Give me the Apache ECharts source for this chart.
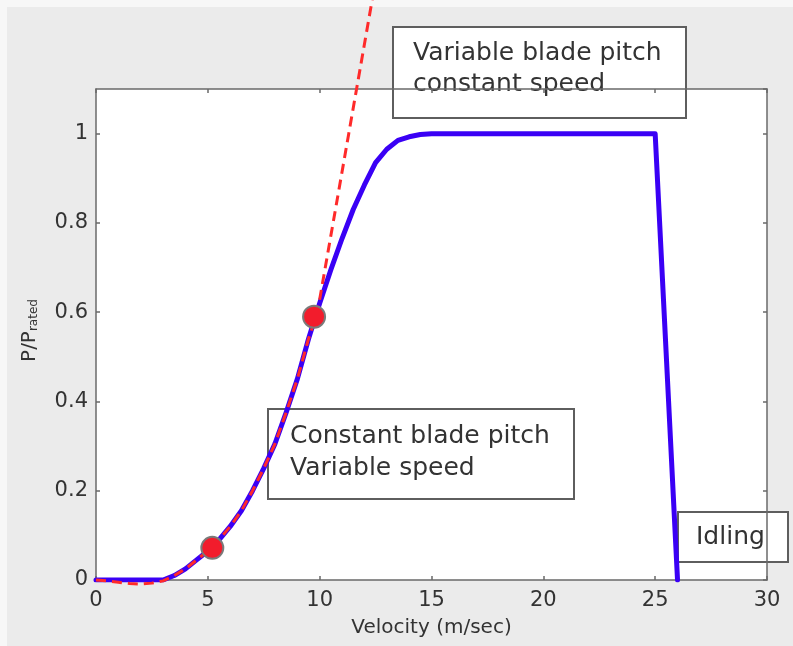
<!DOCTYPE html>
<html>
<head>
<meta charset="utf-8">
<script src="https://cdn.jsdelivr.net/npm/echarts@6/dist/echarts.min.js"></script>
<style>
html,body{margin:0;padding:0;background:#ffffff;}
#chart{width:793px;height:646px;}
</style>
</head>
<body>
<div id="chart"></div>
<script>
// Actual power curve (P/P_rated vs wind velocity)
const actualVelocity = [0, 1, 2, 3, 3.5, 4, 4.5, 5, 5.5, 6, 6.5, 7, 7.5, 8, 8.5, 9, 9.5, 10, 10.5, 11, 11.5, 12, 12.5, 13, 13.5, 14, 14.5, 15, 16, 20, 25, 26];
const actualPower    = [0, 0, 0, 0, 0.01, 0.025, 0.045, 0.065, 0.09, 0.12, 0.155, 0.2, 0.25, 0.305, 0.375, 0.45, 0.54, 0.62, 0.695, 0.765, 0.83, 0.885, 0.935, 0.965, 0.985, 0.993, 0.998, 1.0, 1.0, 1.0, 1.0, 0];

// Ideal (constant pitch) power curve, red dashed
const idealVelocity = [0, 0.5, 1, 1.5, 2, 2.5, 3, 3.5, 4, 4.5, 5, 5.5, 6, 6.5, 7, 7.5, 8, 8.5, 9, 9.5, 9.9, 10.6, 11.3, 12.5];
const idealPower    = [0, -0.002, -0.005, -0.008, -0.009, -0.007, -0.002, 0.01, 0.025, 0.045, 0.065, 0.09, 0.12, 0.155, 0.2, 0.25, 0.305, 0.375, 0.45, 0.54, 0.6, 0.8, 1.0, 1.343];

// Highlighted operating points
const markerVelocity = [5.2, 9.75];
const markerPower    = [0.072, 0.59];

// Axis ticks
const xTicks = [0, 5, 10, 15, 20, 25, 30];
const yTicks = [0, 0.2, 0.4, 0.6, 0.8, 1];

// Annotation texts
const annotationTexts = ['Variable blade pitch\nconstant speed', 'Constant blade pitch\nVariable speed', 'Idling'];

const FONT = 'DejaVu Sans';
const TXT = '#333333';
const AX = '#6a6a6a';

const zip = (a, b) => a.map((v, i) => [v, b[i]]);

const chart = echarts.init(document.getElementById('chart'), null, {renderer: 'canvas'});

const axisLineStyle = {color: AX, width: 1.5};

const option = {
  animation: false,
  backgroundColor: '#ebebeb',
  grid: {left: 96, right: 26, top: 89, bottom: 66, show: true, backgroundColor: '#ffffff', borderWidth: 0, containLabel: false},
  xAxis: [{
    type: 'value', min: xTicks[0], max: xTicks[xTicks.length - 1], interval: xTicks[1] - xTicks[0],
    position: 'bottom',
    axisLine: {show: true, onZero: false, lineStyle: axisLineStyle},
    axisTick: {show: true, inside: true, length: 4, lineStyle: axisLineStyle},
    splitLine: {show: false},
    axisLabel: {color: TXT, fontSize: 21, fontFamily: FONT, margin: 10},
    name: 'Velocity (m/sec)', nameLocation: 'middle', nameGap: 38,
    nameTextStyle: {color: TXT, fontSize: 20, fontFamily: FONT}
  }, {
    type: 'value', min: xTicks[0], max: xTicks[xTicks.length - 1], interval: xTicks[1] - xTicks[0],
    position: 'top',
    axisLine: {show: true, onZero: false, lineStyle: axisLineStyle},
    axisTick: {show: true, inside: true, length: 4, lineStyle: axisLineStyle},
    splitLine: {show: false},
    axisLabel: {show: false}
  }],
  yAxis: [{
    type: 'value', min: 0, max: 1.1, interval: 0.2,
    position: 'left',
    axisLine: {show: true, onZero: false, lineStyle: axisLineStyle},
    axisTick: {show: true, inside: true, length: 4, lineStyle: axisLineStyle},
    splitLine: {show: false},
    axisLabel: {color: TXT, fontSize: 21, fontFamily: FONT, margin: 8, showMaxLabel: false,
      formatter: v => (yTicks.some(t => Math.abs(t - v) < 1e-9) ? String(+v.toFixed(1)) : '')},
    name: '{a|P/P}{b|rated}', nameLocation: 'middle', nameGap: 56, nameRotate: 90,
    nameTextStyle: {
      color: TXT, fontFamily: FONT, padding: [0, 0, 0, 8],
      rich: {
        a: {fontSize: 20, fontFamily: FONT, color: TXT, verticalAlign: 'bottom'},
        b: {fontSize: 12, fontFamily: FONT, color: TXT, verticalAlign: 'bottom', lineHeight: 6}
      }
    }
  }, {
    type: 'value', min: 0, max: 1.1, interval: 0.2,
    position: 'right',
    axisLine: {show: true, onZero: false, lineStyle: axisLineStyle},
    axisTick: {show: true, inside: true, length: 4, lineStyle: axisLineStyle},
    splitLine: {show: false},
    axisLabel: {show: false}
  }],
  series: [{
    type: 'line', name: 'actual', data: zip(actualVelocity, actualPower),
    showSymbol: false, symbol: 'none', z: 3,
    lineStyle: {color: '#3a00f5', width: 5, cap: 'round', join: 'round'}
  }, {
    type: 'line', name: 'ideal', data: zip(idealVelocity, idealPower),
    showSymbol: false, symbol: 'none', clip: false, z: 4,
    lineStyle: {color: '#ff2a2a', width: 3, type: [10, 6]}
  }, {
    type: 'scatter', name: 'points', data: zip(markerVelocity, markerPower),
    symbol: 'circle', symbolSize: 22, z: 5,
    itemStyle: {color: '#f21c2c', borderColor: '#7a7a7a', borderWidth: 2, opacity: 1}
  }],
  graphic: [
    {type: 'rect', shape: {x: 0, y: 0, width: 793, height: 7}, style: {fill: '#f7f7f7'}, silent: true},
    {type: 'rect', shape: {x: 0, y: 0, width: 7, height: 646}, style: {fill: '#f7f7f7'}, silent: true},
    {type: 'group', z: 10, children: [
      {type: 'rect', shape: {x: 393, y: 27, width: 293, height: 91}, style: {fill: '#ffffff', stroke: '#5e5e5e', lineWidth: 2}},
      {type: 'text', x: 413, y: 38, style: {text: annotationTexts[0], fill: TXT, font: '25px "DejaVu Sans"', lineHeight: 31, textVerticalAlign: 'top'}}
    ]},
    {type: 'group', z: 1, children: [
      {type: 'rect', shape: {x: 268, y: 409, width: 306, height: 90}, style: {fill: '#ffffff', stroke: '#5e5e5e', lineWidth: 2}},
      {type: 'text', x: 290, y: 420, style: {text: annotationTexts[1], fill: TXT, font: '25px "DejaVu Sans"', lineHeight: 32, textVerticalAlign: 'top'}}
    ]},
    {type: 'group', z: 10, children: [
      {type: 'rect', shape: {x: 678, y: 512, width: 110, height: 50}, style: {fill: '#ffffff', stroke: '#5e5e5e', lineWidth: 2}},
      {type: 'text', x: 696, y: 522, style: {text: annotationTexts[2], fill: TXT, font: '25px "DejaVu Sans"', lineHeight: 31, textVerticalAlign: 'top'}}
    ]}
  ]
};
chart.setOption(option);
</script>
</body>
</html>
